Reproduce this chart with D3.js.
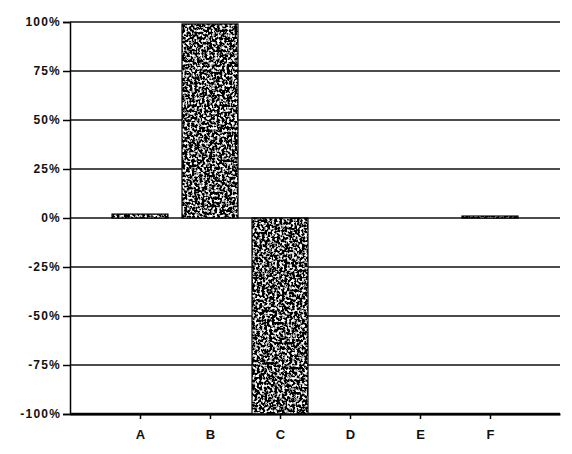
<!DOCTYPE html>
<html>
<head>
    <script src="https://cdn.jsdelivr.net/npm/d3@7"></script>
    <style>
        body { margin: 0; background: #fff; }
        text { font-family: "Liberation Sans", Arial, sans-serif; }
    </style>
</head>
<body>
    <svg width="572" height="454" id="mainsvg"></svg>
    <script>
        // data
        const categories = ['A', 'B', 'C', 'D', 'E', 'F'];
        const values = [2, 99, -100, 0, 0, 1];
        const yTicks = [100, 75, 50, 25, 0, -25, -50, -75, -100];

        const svg = d3.select('svg');
        const margin = { left: 70, right: 12, top: 22, bottom: 40 };
        const width = +svg.attr('width');
        const height = +svg.attr('height');

        const x = d3.scalePoint()
            .domain(categories)
            .range([margin.left, width - margin.right])
            .padding(1);
        const barW = x.step() * 0.8;

        const y = d3.scaleLinear()
            .domain([-100, 100])
            .range([height - margin.bottom, margin.top]);

        // noisy scan-like fill
        const defs = svg.append('defs');
        const f = defs.append('filter').attr('id', 'grain')
            .attr('x', 0).attr('y', 0).attr('width', 1).attr('height', 1);
        f.append('feTurbulence').attr('type', 'fractalNoise')
            .attr('baseFrequency', 0.4).attr('numOctaves', 2).attr('seed', 3)
            .attr('result', 'noise');
        f.append('feColorMatrix').attr('in', 'noise').attr('type', 'matrix')
            .attr('values', '0 0 0 0 0  0 0 0 0 0  0 0 0 0 0  -5 0 0 0 3.4')
            .attr('result', 'dots');
        f.append('feFlood').attr('flood-color', '#fff').attr('result', 'white');
        f.append('feComposite').attr('in', 'dots').attr('in2', 'white')
            .attr('operator', 'over').attr('result', 'tex');
        f.append('feComposite').attr('in', 'tex').attr('in2', 'SourceGraphic')
            .attr('operator', 'in');

        // gridlines
        svg.append('g').selectAll('line').data(yTicks).join('line')
            .attr('x1', margin.left).attr('x2', width - margin.right)
            .attr('y1', d => y(d)).attr('y2', d => y(d))
            .attr('stroke', '#111')
            .attr('stroke-width', d => d === -100 ? 2.5 : 1.5);

        // bars
        svg.append('g').selectAll('rect').data(values).join('rect')
            .attr('x', (d, i) => x(categories[i]) - barW / 2)
            .attr('y', d => y(Math.max(0, d)))
            .attr('width', barW)
            .attr('height', d => Math.abs(y(d) - y(0)))
            .attr('fill', '#000')
            .attr('filter', 'url(#grain)');
        svg.append('g').selectAll('rect').data(values).join('rect')
            .attr('x', (d, i) => x(categories[i]) - barW / 2)
            .attr('y', d => y(Math.max(0, d)))
            .attr('width', barW)
            .attr('height', d => Math.abs(y(d) - y(0)))
            .attr('fill', 'none')
            .attr('stroke', '#000')
            .attr('stroke-width', 1.2);

        // y axis
        const yAxis = svg.append('g')
            .attr('transform', `translate(${margin.left},0)`)
            .call(d3.axisLeft(y).tickValues(yTicks).tickSize(7).tickPadding(2).tickFormat(d => d + '%'));
        yAxis.select('.domain').attr('stroke', '#000').attr('stroke-width', 1.5);
        yAxis.selectAll('.tick line').attr('stroke-width', 1.5);
        yAxis.selectAll('text').attr('font-size', 12).attr('font-weight', 'bold')
            .attr('letter-spacing', 1.2).attr('fill', '#111');

        // x axis
        const xAxis = svg.append('g')
            .attr('transform', `translate(0,${y(-100)})`)
            .call(d3.axisBottom(x).tickSize(5).tickSizeOuter(0));
        xAxis.select('.domain').attr('stroke', '#000').attr('stroke-width', 2);
        xAxis.selectAll('.tick line').attr('stroke-width', 1.5);
        xAxis.selectAll('text').attr('font-size', 13).attr('font-weight', 'bold')
            .attr('fill', '#111').attr('dy', '1.3em');
    </script>
</body>
</html>
